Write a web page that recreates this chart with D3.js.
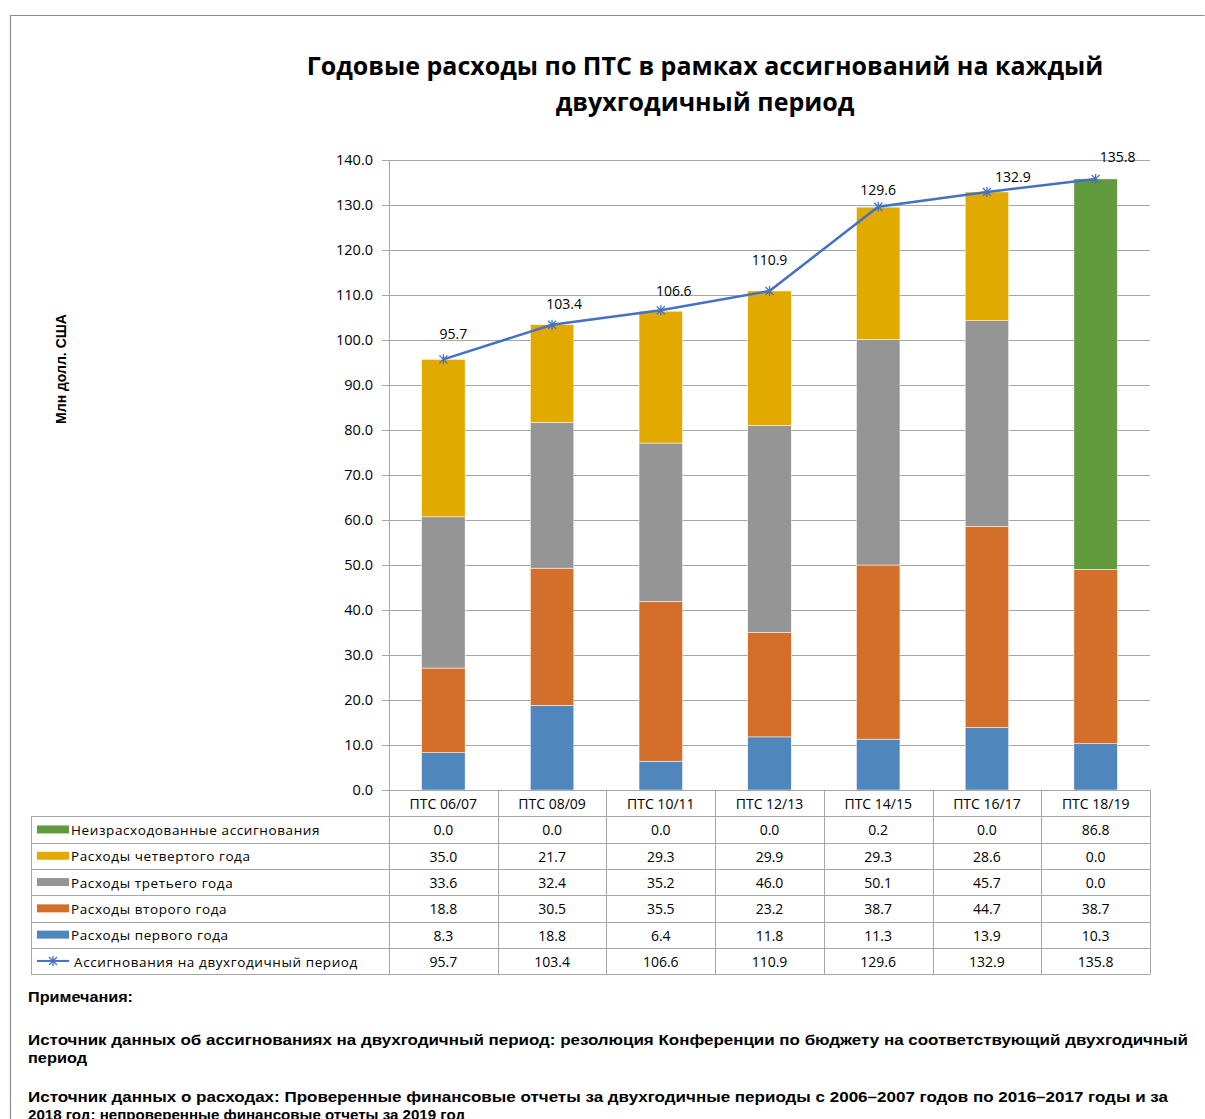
<!DOCTYPE html>
<meta charset="utf-8">
<style>
body { margin: 0; background: #fff; }
svg text { font-family: "Open Sans", "Liberation Sans", sans-serif; fill: #000; }
.grid line { stroke: #a6a6a6; stroke-width: 1px; }
.tbl line { stroke: #a6a6a6; stroke-width: 1px; }
.tick-label { font-size: 14.5px; }
.cell { font-size: 14px; }
.legend-text { font-size: 13.5px; letter-spacing: 0.6px; }
.note { font-family: "Liberation Sans", Arial, sans-serif; font-weight: bold; font-size: 14px; }
</style>
<svg width="1205" height="1119"></svg>
<script src="https://d3js.org/d3.v7.min.js"></script>
<script>

var categories = ["ПТС 06/07", "ПТС 08/09", "ПТС 10/11", "ПТС 12/13", "ПТС 14/15", "ПТС 16/17", "ПТС 18/19"];

var firstYear   = [8.3, 18.8, 6.4, 11.8, 11.3, 13.9, 10.3];
var secondYear  = [18.8, 30.5, 35.5, 23.2, 38.7, 44.7, 38.7];
var thirdYear   = [33.6, 32.4, 35.2, 46.0, 50.1, 45.7, 0.0];
var fourthYear  = [35.0, 21.7, 29.3, 29.9, 29.3, 28.6, 0.0];
var unspent     = [0.0, 0.0, 0.0, 0.0, 0.2, 0.0, 86.8];
var appropriation = [95.7, 103.4, 106.6, 110.9, 129.6, 132.9, 135.8];

var yTicks = [0, 10, 20, 30, 40, 50, 60, 70, 80, 90, 100, 110, 120, 130, 140];

// label nudges for the line's data labels (as placed in the original)
var labelDx = [10, 12, 13, 0, 0, 26, 22];
var labelDy = [-25, -21, -19, -31, -17, -15, -22];

var series = [
  {key: "first",  name: "Расходы первого года",  values: firstYear,  color: "#4f87bd"},
  {key: "second", name: "Расходы второго года",  values: secondYear, color: "#d46f2b"},
  {key: "third",  name: "Расходы третьего  года", values: thirdYear,  color: "#959595"},
  {key: "fourth", name: "Расходы четвертого  года", values: fourthYear, color: "#e2aa00"},
  {key: "unspent", name: "Неизрасходованные ассигнования", values: unspent, color: "#629b3e"}
];
var lineColor = "#4471c4";

var svg = d3.select("svg");

// outer frame
svg.append("path")
    .attr("d", "M10.5,1119 V15.5 H1204.5")
    .attr("fill", "none")
    .attr("stroke", "#8c8c8c")
    .attr("stroke-width", 1.2);

// title
var title = svg.append("text")
    .attr("text-anchor", "middle")
    .attr("font-weight", "bold")
    .attr("font-size", "25px");
title.append("tspan").attr("x", 705).attr("y", 75).text("Годовые расходы по ПТС в рамках ассигнований на каждый");
title.append("tspan").attr("x", 705).attr("y", 111).text("двухгодичный период");

var plotLeft = 389, plotRight = 1150, plotTop = 160, plotBottom = 790;

var x = d3.scaleBand()
    .domain(categories)
    .range([plotLeft, plotRight])
    .paddingInner(0.6)
    .paddingOuter(0.3);

var col = d3.scaleBand()
    .domain(categories)
    .range([plotLeft, plotRight]);

var y = d3.scaleLinear()
    .domain([0, 140])
    .range([plotBottom, plotTop]);

// gridlines
svg.append("g")
    .attr("class", "grid")
  .selectAll("line")
  .data(yTicks)
  .enter().append("line")
    .attr("x1", plotLeft - 7)
    .attr("x2", plotRight)
    .attr("y1", function(d) { return Math.round(y(d)) + 0.5; })
    .attr("y2", function(d) { return Math.round(y(d)) + 0.5; });

svg.append("g")
  .selectAll("text")
  .data(yTicks)
  .enter().append("text")
    .attr("class", "tick-label")
    .attr("x", 373)
    .attr("y", function(d) { return y(d); })
    .attr("dy", "0.35em")
    .attr("text-anchor", "end")
    .text(function(d) { return d3.format(".1f")(d); });

// y axis line
svg.append("line")
    .attr("x1", plotLeft + 0.5).attr("x2", plotLeft + 0.5)
    .attr("y1", plotTop).attr("y2", plotBottom)
    .attr("stroke", "#a6a6a6");

// y axis title
svg.append("text")
    .attr("class", "note")
    .attr("font-size", "13px")
    .attr("text-anchor", "middle")
    .attr("transform", "translate(66,369) rotate(-90)")
    .text("Млн долл. США");

// stacked bars
var rows = categories.map(function(c, i) {
  var r = {cat: c};
  series.forEach(function(s) { r[s.key] = s.values[i]; });
  return r;
});
var stacked = d3.stack().keys(series.map(function(s) { return s.key; }))(rows);

svg.append("g")
  .selectAll("g")
  .data(stacked)
  .enter().append("g")
    .attr("fill", function(d, i) { return series[i].color; })
  .selectAll("rect")
  .data(function(d) { return d; })
  .enter().append("rect")
    .attr("x", function(d) { return x(d.data.cat); })
    .attr("width", x.bandwidth())
    .attr("y", function(d) { return y(d[1]); })
    .attr("height", function(d) { return Math.max(0, y(d[0]) - y(d[1])); })
    .attr("stroke", "#fff")
    .attr("stroke-width", 0.5);

// appropriation line
var cx = function(i) { return col(categories[i]) + col.bandwidth() / 2; };
var line = d3.line()
    .x(function(d, i) { return cx(i); })
    .y(function(d) { return y(d); });

svg.append("path")
    .datum(appropriation)
    .attr("fill", "none")
    .attr("stroke", lineColor)
    .attr("stroke-width", 2.5)
    .attr("d", line);

function starPath(px, py, r) {
  return "M" + (px - r) + "," + (py - r) + "L" + (px + r) + "," + (py + r) +
         "M" + (px - r) + "," + (py + r) + "L" + (px + r) + "," + (py - r) +
         "M" + px + "," + (py - r - 1) + "L" + px + "," + (py + r + 1);
}

svg.append("g")
  .selectAll("path")
  .data(appropriation)
  .enter().append("path")
    .attr("d", function(d, i) { return starPath(cx(i), y(d), 4); })
    .attr("stroke", lineColor)
    .attr("stroke-width", 1.3)
    .attr("fill", "none");

svg.append("g")
  .selectAll("text")
  .data(appropriation)
  .enter().append("text")
    .attr("class", "cell")
    .attr("x", function(d, i) { return cx(i) + labelDx[i]; })
    .attr("y", function(d, i) { return y(d) + labelDy[i]; })
    .attr("dy", "0.35em")
    .attr("text-anchor", "middle")
    .text(function(d) { return d3.format(".1f")(d); });

// data table
var tableLeft = 31, rowH = 26.3, headTop = plotBottom;
var tableRows = [
  {name: series[4].name, values: unspent, color: series[4].color},
  {name: series[3].name, values: fourthYear, color: series[3].color},
  {name: series[2].name, values: thirdYear, color: series[2].color},
  {name: series[1].name, values: secondYear, color: series[1].color},
  {name: series[0].name, values: firstYear, color: series[0].color},
  {name: "Ассигнования на двухгодичный период", values: appropriation, line: true}
];
var bodyTop = headTop + rowH;
var tableBottom = bodyTop + rowH * tableRows.length;

var tbl = svg.append("g").attr("class", "tbl");

// horizontal lines
tbl.append("line")
    .attr("x1", plotLeft).attr("x2", plotRight)
    .attr("y1", headTop + 0.5).attr("y2", headTop + 0.5);
d3.range(tableRows.length + 1).forEach(function(k) {
  var yy = Math.round(bodyTop + k * rowH) + 0.5;
  tbl.append("line")
      .attr("x1", tableLeft).attr("x2", plotRight)
      .attr("y1", yy).attr("y2", yy);
});
// vertical lines
tbl.append("line")
    .attr("x1", tableLeft + 0.5).attr("x2", tableLeft + 0.5)
    .attr("y1", bodyTop).attr("y2", tableBottom);
categories.forEach(function(c) {
  var xx = Math.round(col(c)) + 0.5;
  tbl.append("line")
      .attr("x1", xx).attr("x2", xx)
      .attr("y1", headTop).attr("y2", tableBottom);
});
tbl.append("line")
    .attr("x1", plotRight + 0.5).attr("x2", plotRight + 0.5)
    .attr("y1", headTop).attr("y2", tableBottom);

// header labels
svg.append("g")
  .selectAll("text")
  .data(categories)
  .enter().append("text")
    .attr("class", "cell")
    .attr("x", function(d) { return col(d) + col.bandwidth() / 2; })
    .attr("y", headTop + rowH / 2 + 1)
    .attr("dy", "0.35em")
    .attr("text-anchor", "middle")
    .text(function(d) { return d; });

// rows
var rowG = svg.append("g")
  .selectAll("g")
  .data(tableRows)
  .enter().append("g")
    .attr("transform", function(d, i) { return "translate(0," + (bodyTop + i * rowH + rowH / 2 + 1) + ")"; });

rowG.filter(function(d) { return !d.line; })
  .append("rect")
    .attr("x", 37).attr("y", -5)
    .attr("width", 32).attr("height", 8)
    .attr("fill", function(d) { return d.color; });

var lg = rowG.filter(function(d) { return d.line; });
lg.append("line")
    .attr("x1", 37).attr("x2", 69)
    .attr("y1", -1).attr("y2", -1)
    .attr("stroke", lineColor).attr("stroke-width", 2);
lg.append("path")
    .attr("d", starPath(53, -1, 4))
    .attr("stroke", lineColor).attr("stroke-width", 1.3);

rowG.append("text")
    .attr("class", "legend-text")
    .attr("x", function(d) { return d.line ? 74 : 71; })
    .attr("dy", "0.35em")
    .text(function(d) { return d.name; });

rowG.selectAll("text.cell")
  .data(function(d) { return d.values; })
  .enter().append("text")
    .attr("class", "cell")
    .attr("x", function(d, i) { return col(categories[i]) + col.bandwidth() / 2; })
    .attr("dy", "0.35em")
    .attr("text-anchor", "middle")
    .text(function(d) { return d3.format(".1f")(d); });

// notes
var notes = [
  {t: "Примечания:", y: 1002, w: 105},
  {t: "Источник данных об ассигнованиях на двухгодичный период: резолюция Конференции по бюджету на соответствующий  двухгодичный", y: 1045, w: 1160},
  {t: "период", y: 1063, w: 59},
  {t: "Источник данных о расходах: Проверенные финансовые отчеты за двухгодичные периоды с 2006–2007 годов по 2016–2017 годы и за", y: 1102, w: 1140},
  {t: "2018 год; непроверенные финансовые отчеты за 2019 год", y: 1120, w: 437}
];
svg.append("g")
  .selectAll("text")
  .data(notes)
  .enter().append("text")
    .attr("class", "note")
    .attr("x", 28)
    .attr("y", function(d) { return d.y; })
    .attr("textLength", function(d) { return d.w; })
    .attr("lengthAdjust", "spacingAndGlyphs")
    .text(function(d) { return d.t; });

</script>
